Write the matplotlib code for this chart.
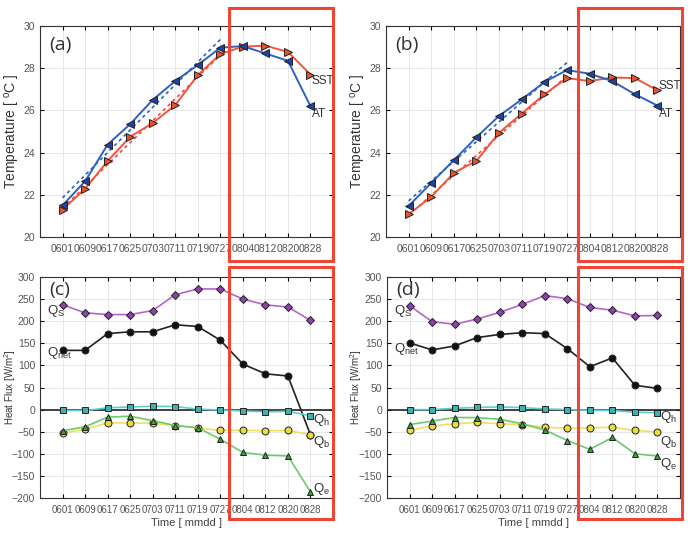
import numpy as np
import matplotlib
matplotlib.use("Agg")
import matplotlib.pyplot as plt
from matplotlib.patches import Rectangle

plt.rcParams["font.family"] = ["Liberation Sans", "DejaVu Sans"]
plt.rcParams["mathtext.fontset"] = "custom"
plt.rcParams["mathtext.rm"] = "Liberation Sans"
plt.rcParams["mathtext.it"] = "Liberation Sans:italic"

dates = ["0601", "0609", "0617", "0625", "0703", "0711",
         "0719", "0727", "0804", "0812", "0820", "0828"]

# panel (a) / (b) temperatures
at_a = [21.5, 22.64, 24.38, 25.35, 26.5, 27.39, 28.15, 28.97, 29.05, 28.7, 28.35, 26.2]
sst_a = [21.3, 22.28, 23.6, 24.75, 25.4, 26.25, 27.67, 28.67, 29.02, 29.07, 28.77, 27.7]
at_b = [21.47, 22.56, 23.64, 24.73, 25.74, 26.52, 27.34, 27.91, 27.74, 27.39, 26.77, 26.23]
sst_b = [21.08, 21.9, 23.04, 23.61, 24.94, 25.85, 26.76, 27.53, 27.39, 27.56, 27.53, 26.96]

# panel (c) / (d) heat fluxes
qs_c = [237, 219, 215, 215, 224, 260, 273, 273, 250, 237, 232, 202]
qnet_c = [134, 134, 172, 176, 176, 192, 188, 157, 103, 81, 76, -57]
qh_c = [-2, -2, 4, 6, 7.5, 7, 1, -1, -3, -5, -4, -14]
qb_c = [-53, -45, -30, -30, -31, -36, -42, -47, -47, -48, -47, -57]
qe_c = [-48, -39, -17, -15, -25, -36, -41, -67, -97, -103, -105, -186]

qs_d = [235, 199, 193, 205, 220, 238, 258, 251, 231, 225, 212, 213]
qnet_d = [151, 135, 144, 163, 170, 174, 172, 138, 97, 117, 55, 48]
qh_d = [0, 0, 3, 5, 6, 4.5, 1.5, 0, -1.5, -2, -6, -7]
qb_d = [-47, -37, -32, -29, -32, -34, -40, -42, -41, -40, -47, -51]
qe_d = [-34, -26, -18, -18, -22, -32, -46, -70, -90, -63, -100, -105]

x = np.arange(1, len(dates) + 1)
tick_col = "#555555"

fig = plt.figure(figsize=(6.91, 5.39), dpi=100)


def style(ax, fs):
    ax.set_xlim(0, 13)
    ax.set_xticks(x)
    ax.set_xticklabels(dates, fontsize=fs, color=tick_col)
    ax.tick_params(direction="in", top=True, right=True, length=3,
                   labelsize=7.5, labelcolor=tick_col, pad=5)
    ax.tick_params(axis="x", labelsize=fs)
    ax.tick_params(axis="y", pad=3.5)
    ax.grid(True, color="#e4e4e4", linewidth=0.6)
    ax.set_axisbelow(True)
    for s in ax.spines.values():
        s.set_color("#333333")
        s.set_linewidth(0.8)


def temp_panel(rect, at, sst, letter, sst_lab, at_lab):
    ax = fig.add_axes(rect)
    style(ax, 7.5)
    ax.set_ylim(20, 30)
    ax.set_yticks([20, 22, 24, 26, 28, 30])
    # linear trend over first 8 points (june-july)
    for vals, c in [(at, "#2d62c0"), (sst, "#f04a3a")]:
        p = np.polyfit(x[:8], vals[:8], 1)
        ax.plot(x[:8], np.polyval(p, x[:8]), linestyle=(0, (2, 2)),
                color=c, linewidth=1.2, zorder=2)
    ax.plot(x, sst, color="#f2553f", linewidth=1.4, marker=">",
            markersize=6, markerfacecolor="#e8502f", markeredgecolor="#222222",
            markeredgewidth=0.7, zorder=3)
    ax.plot(x, at, color="#2d62c0", linewidth=1.4, marker="<",
            markersize=6, markerfacecolor="#1f45a0", markeredgecolor="#222222",
            markeredgewidth=0.7, zorder=4)
    ax.text(12.05, sst_lab, "SST", fontsize=8.5, color="#333333", va="center")
    ax.text(12.05, at_lab, "AT", fontsize=8.5, color="#333333", va="center")
    ax.text(0.4, 29.1, letter, fontsize=14, color="#333333", va="center",
            family="Open Sans")
    ax.set_ylabel(r"Temperature [ $^{\mathrm{o}}$C ]", fontsize=10, color="#333333")
    ax.yaxis.set_label_coords(-0.062, 0.5)
    return ax


def flux_panel(rect, qs, qnet, qh, qb, qe, letter, labs, ylab_x):
    ax = fig.add_axes(rect)
    style(ax, 7)
    ax.set_ylim(-200, 300)
    ax.set_yticks(np.arange(-200, 301, 50))
    ax.axhline(0, color="#222222", linewidth=1.2, zorder=2)
    kw = dict(linewidth=1.2, markersize=5, markeredgecolor="#222222",
              markeredgewidth=0.7)
    ax.plot(x, qs, color="#b466c8", marker="D", markerfacecolor="#9040b0",
            zorder=4, **dict(kw, markersize=4.5))
    ax.plot(x, qnet, color="#222222", marker="o", markerfacecolor="#111111",
            zorder=4, **kw)
    ax.plot(x, qh, color="#5ccfcf", marker="s", markerfacecolor="#40b0b0",
            zorder=4, **dict(kw, markersize=4.5))
    ax.plot(x, qb, color="#f0e060", marker="o", markerfacecolor="#e8dc40",
            zorder=4, **kw)
    ax.plot(x, qe, color="#6ccb6a", marker="^", markerfacecolor="#3f9f3f",
            zorder=4, **kw)
    c = "#333333"
    ax.text(0.3, labs[0], r"Q$_\mathrm{S}$", fontsize=9.5, color=c, va="center")
    ax.text(0.3, labs[1], r"Q$_\mathrm{net}$", fontsize=9.5, color=c, va="center")
    ax.text(12.1, labs[2], r"Q$_\mathrm{h}$", fontsize=9.5, color=c, va="center")
    ax.text(12.1, labs[3], r"Q$_\mathrm{b}$", fontsize=9.5, color=c, va="center")
    ax.text(12.1, labs[4], r"Q$_\mathrm{e}$", fontsize=9.5, color=c, va="center")
    ax.text(0.4, 270, letter, fontsize=14, color="#333333", va="center",
            family="Open Sans")
    ax.set_ylabel(r"Heat Flux [W/m$^2$]", fontsize=7, color="#333333")
    ax.yaxis.set_label_coords(ylab_x, 0.5)
    ax.set_xlabel("Time [ mmdd ]", fontsize=8, color="#444444", labelpad=2)
    return ax


W, H = 691.0, 539.0


def frac(l, t, r, b):
    return [l / W, 1 - b / H, (r - l) / W, (b - t) / H]


temp_panel(frac(40, 26, 333, 237), at_a, sst_a, "(a)", 27.4, 25.85)
temp_panel(frac(386, 26, 680, 237), at_b, sst_b, "(b)", 27.15, 25.85)
flux_panel(frac(40, 277, 333, 498), qs_c, qnet_c, qh_c, qb_c, qe_c, "(c)",
           [222, 128, -24, -73, -180], -0.075)
flux_panel(frac(387, 277, 680, 498), qs_d, qnet_d, qh_d, qb_d, qe_d, "(d)",
           [222, 138, -17, -73, -122], -0.08)

# red highlight boxes over Aug period
for l, t, r, b in [(229, 8, 333, 261), (229, 267, 333, 519),
                   (578, 8, 682, 261), (578, 267, 682, 519)]:
    fig.patches.append(Rectangle((l / W, 1 - b / H), (r - l) / W, (b - t) / H,
                                 transform=fig.transFigure, fill=False,
                                 edgecolor="#f04535", linewidth=2.2, zorder=10))

fig.savefig("out.png", dpi=100)
